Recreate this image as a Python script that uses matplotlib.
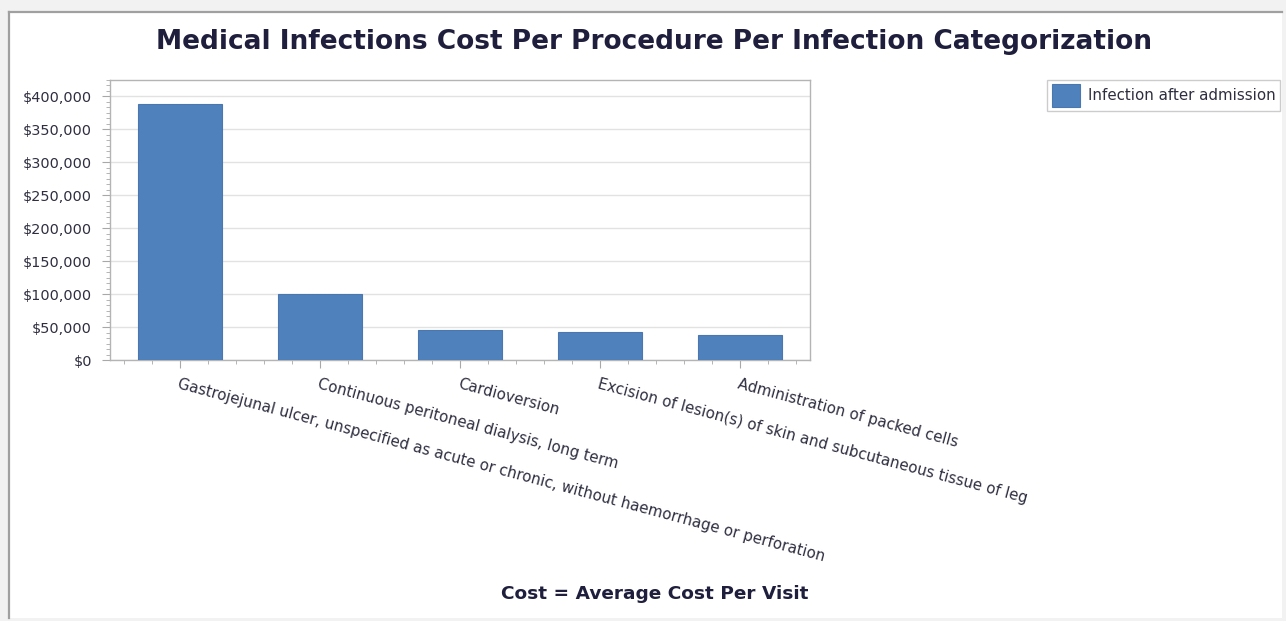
import matplotlib.pyplot as plt
from matplotlib.ticker import FuncFormatter, MultipleLocator
from matplotlib.lines import Line2D
from matplotlib.patches import Rectangle

procedures = [
    'Gastrojejunal ulcer, unspecified as acute or chronic, without haemorrhage or perforation',
    'Continuous peritoneal dialysis, long term',
    'Cardioversion',
    'Excision of lesion(s) of skin and subcutaneous tissue of leg',
    'Administration of packed cells',
]
avg_cost = [389000, 100000, 45500, 43000, 38500]
series_name = 'Infection after admission'

bar_color = '#4f81bd'
text_color = '#2e2e40'
title_color = '#1f1f3d'
frame_color = '#b4b4b4'

fig = plt.figure(figsize=(12.86, 6.21), dpi=100, facecolor='white')

# outer panel frame
fig.patches.append(Rectangle((0, 0), 1, 1, transform=fig.transFigure,
                             facecolor='#f2f2f2', edgecolor='none', zorder=-3))
fig.patches.append(Rectangle((9 / 1286, 3 / 621), (1282 - 9) / 1286, (609 - 3) / 621,
                             transform=fig.transFigure, facecolor='white',
                             edgecolor='none', zorder=-2))
fig.lines.append(Line2D([9 / 1286, 9 / 1286], [3 / 621, 609 / 621], transform=fig.transFigure,
                        color='#a0a0a0', lw=1.6))
fig.lines.append(Line2D([9 / 1286, 1282 / 1286], [609 / 621, 609 / 621], transform=fig.transFigure,
                        color='#a0a0a0', lw=1.6))

ax = fig.add_axes([110 / 1286, 1 - 360 / 621, 700 / 1286, 280 / 621])
ax.set_facecolor('white')
x = range(len(procedures))
ax.bar(x, avg_cost, width=0.6, color=bar_color, edgecolor='#4a77ad', linewidth=0.8,
       label=series_name, zorder=3)

ax.set_xlim(-0.5, len(procedures) - 0.5)
ax.set_ylim(0, 425000)
ax.yaxis.set_major_locator(MultipleLocator(50000))
ax.yaxis.set_minor_locator(MultipleLocator(50000 / 6))
ax.xaxis.set_minor_locator(MultipleLocator(0.2))
ax.yaxis.set_major_formatter(FuncFormatter(lambda v, p: '${:,.0f}'.format(v)))
ax.grid(axis='y', which='major', color='#e2e2e2', linewidth=1, zorder=0)

for s in ax.spines.values():
    s.set_color(frame_color)
    s.set_linewidth(1)

ax.tick_params(axis='both', which='major', length=6, color='#a8a8a8',
               labelsize=10.4, labelcolor=text_color)
ax.tick_params(axis='both', which='minor', length=3, color='#a8a8a8')
ax.tick_params(axis='x', which='major', pad=6)
ax.tick_params(axis='y', which='major', pad=7)

ax.set_xticks(list(x))
ax.set_xticklabels(procedures, rotation=-15, ha='left', va='top',
                   rotation_mode='anchor', fontsize=10.8)

fig.text(654 / 1286, 1 - 42 / 621, 'Medical Infections Cost Per Procedure Per Infection Categorization',
         ha='center', va='center', fontsize=19, fontweight='bold', color=title_color)
fig.text(655 / 1286, 1 - 594 / 621, 'Cost = Average Cost Per Visit',
         ha='center', va='center', fontsize=13.3, fontweight='bold', color=title_color)

leg = fig.legend(loc='upper right', bbox_to_anchor=(1280 / 1286, 1 - 80 / 621),
                 fontsize=10.8, frameon=True, fancybox=False, borderpad=0.3,
                 handlelength=1.9, handleheight=1.9, handletextpad=0.5,
                 labelcolor=text_color, borderaxespad=0)
leg.get_frame().set_edgecolor('#c0c0c0')
leg.get_frame().set_linewidth(1)

fig.savefig('out.png', dpi=100, facecolor=fig.get_facecolor())
